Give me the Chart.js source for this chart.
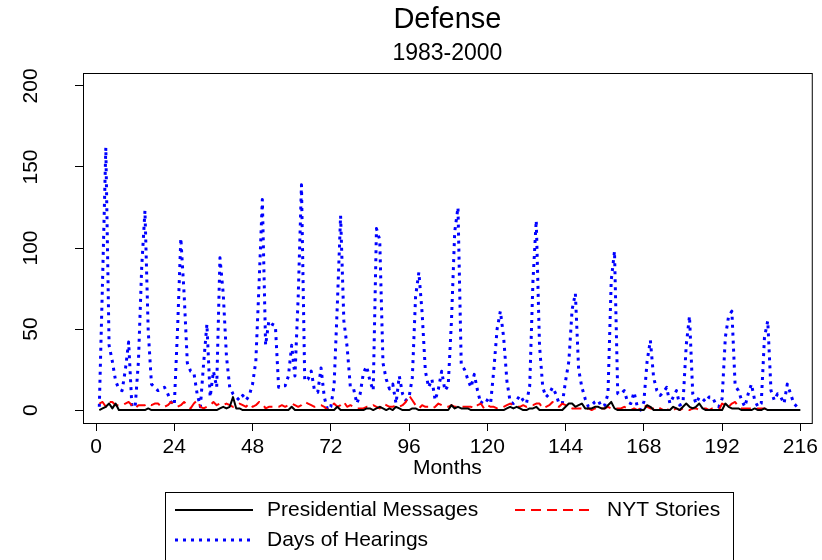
<!DOCTYPE html>
<html>
<head>
<meta charset="utf-8">
<script src="https://cdn.jsdelivr.net/npm/chart.js@4.4.1/dist/chart.umd.min.js"></script>
<style>
  html, body { margin: 0; padding: 0; background: #fff; }
</style>
</head>
<body>
<canvas id="chart" width="822" height="560"></canvas>
<script>
// Monthly counts, 1983-2000 (month 1 .. 216)
const hearings = [
  2, 80, 162, 40, 30, 18, 13, 12, 25, 42,
  2, 2, 30, 88, 123, 49, 16, 14, 12, 13,
  14, 10, 5, 3, 50, 106, 72, 29, 24, 23,
  10, 2, 29, 53, 8, 24, 14, 94, 72, 33,
  14, 10, 8, 6, 9, 6, 9, 16, 30, 78,
  130, 40, 55, 53, 52, 14, 15, 15, 21, 40,
  21, 70, 139, 18, 19, 24, 12, 11, 26, 8,
  0, 2, 15, 65, 120, 55, 39, 14, 13, 4,
  10, 23, 27, 18, 12, 112, 105, 29, 19, 13,
  16, 4, 21, 10, 6, 8, 20, 70, 85, 60,
  24, 14, 19, 6, 13, 24, 12, 15, 55, 110,
  125, 28, 25, 19, 14, 22, 12, 4, 7, 6,
  4, 25, 50, 61, 45, 18, 5, 4, 6, 9,
  6, 4, 15, 80, 117, 40, 14, 8, 10, 14,
  10, 4, 4, 18, 30, 62, 72, 25, 14, 7,
  2, 3, 5, 6, 2, 3, 10, 80, 98, 10,
  10, 12, 5, 4, 11, 2, 0, 5, 30, 43,
  20, 12, 9, 11, 14, 4, 8, 12, 3, 4,
  40, 58, 10, 4, 8, 7, 5, 8, 8, 4,
  2, 7, 45, 58, 61, 15, 12, 6, 2, 10,
  16, 6, 2, 4, 45, 55, 12, 6, 10, 8,
  4, 16, 10, 4, 2, 0
];

const nytStories = [
  4, 5, 2, 5, 5, 3, 3, 3, 4, 5,
  3, 1, 3, 3, 3, 4, 3, 4, 4, 2,
  2, 3, 5, 3, 2, 3, 5, 3, 1, 4,
  6, 2, 1, 2, 3, 5, 3, 4, 3, 4,
  3, 2, 3, 4, 3, 2, 4, 2, 3, 5,
  4, 1, 2, 2, 2, 2, 3, 2, 3, 4,
  3, 2, 3, 5, 4, 3, 2, 3, 3, 2,
  0, 2, 4, 2, 3, 5, 2, 3, 2, 1,
  1, 1, 2, 2, 3, 2, 1, 4, 3, 2,
  2, 3, 2, 3, 5, 9, 6, 3, 1, 3,
  2, 2, 1, 2, 4, 3, 2, 2, 3, 2,
  2, 2, 2, 2, 2, 1, 3, 4, 1, 3,
  2, 2, 1, 1, 2, 3, 4, 3, 2, 2,
  3, 2, 3, 3, 4, 4, 1, 2, 3, 5,
  3, 2, 4, 3, 2, 1, 1, 1, 1, 0,
  1, 0, 1, 0, 1, 1, 2, 1, 1, 1,
  1, 2, 1, 0, 1, 0, 1, 3, 2, 1,
  1, 2, 1, 0, 0, 1, 0, 1, 0, 1,
  1, 0, 1, 1, 0, 1, 1, 0, 1, 1,
  0, 4, 3, 2, 4, 5, 2, 1, 1, 1,
  1, 0, 1, 1, 1, 0, 0, 0, 0, 0,
  0, 0, 0, 0, 0, 0
];

const presMessages = [
  0, 1, 2, 4, 1, 4, 0, 0, 0, 0,
  0, 0, 0, 0, 0, 1, 0, 0, 0, 0,
  0, 0, 0, 0, 0, 0, 0, 0, 0, 0,
  0, 0, 0, 0, 0, 0, 0, 1, 2, 1,
  2, 8, 1, 1, 0, 0, 0, 0, 0, 0,
  0, 0, 0, 0, 0, 0, 0, 0, 0, 2,
  0, 0, 0, 0, 0, 0, 0, 0, 0, 0,
  0, 0, 0, 2, 0, 0, 0, 0, 0, 0,
  0, 0, 1, 1, 0, 1, 2, 1, 0, 1,
  0, 2, 1, 0, 0, 0, 1, 1, 0, 0,
  0, 0, 0, 0, 0, 0, 0, 0, 3, 1,
  2, 1, 1, 1, 0, 0, 0, 0, 0, 0,
  0, 0, 0, 0, 0, 1, 2, 1, 2, 1,
  0, 0, 1, 1, 2, 0, 0, 0, 0, 0,
  0, 0, 0, 2, 4, 4, 2, 3, 4, 1,
  1, 1, 2, 2, 1, 1, 3, 5, 1, 0,
  0, 0, 0, 0, 0, 0, 0, 0, 3, 2,
  0, 0, 0, 0, 0, 0, 2, 1, 0, 2,
  4, 2, 1, 2, 4, 1, 0, 0, 0, 0,
  0, 0, 4, 2, 1, 1, 1, 0, 0, 0,
  0, 1, 0, 0, 1, 0, 0, 0, 0, 0,
  0, 0, 0, 0, 0, 0
];

const xTicks = [0, 24, 48, 72, 96, 120, 144, 168, 192, 216];
const yTicks = [0, 50, 100, 150, 200];

const FONT = '"Liberation Sans", Arial, Helvetica, sans-serif';

const toPoints = arr => arr.map((v, i) => ({ x: i + 1, y: v }));

// R-style frame, rotated y labels, titles and boxed legend
const rFrame = {
  id: 'rFrame',
  afterDraw(chart) {
    const { ctx, chartArea: a, scales } = chart;
    ctx.save();
    ctx.strokeStyle = '#000';
    ctx.lineWidth = 1;
    ctx.strokeRect(a.left + 0.5, a.top + 0.5, a.right - a.left, a.bottom - a.top);

    ctx.fillStyle = '#000';
    ctx.textAlign = 'center';
    ctx.textBaseline = 'middle';

    // y tick labels, rotated
    ctx.font = '21px ' + FONT;
    yTicks.forEach(v => {
      const y = scales.y.getPixelForValue(v);
      ctx.save();
      ctx.translate(31, y);
      ctx.rotate(-Math.PI / 2);
      ctx.fillText(String(v), 0, 0);
      ctx.restore();
    });

    const cx = (a.left + a.right) / 2;
    ctx.fillText('Months', cx, 468);

    ctx.font = '29px ' + FONT;
    ctx.fillText('Defense', cx, 20);
    ctx.font = '23px ' + FONT;
    ctx.fillText('1983-2000', cx, 54);

    // legend
    ctx.strokeRect(165.5, 492.5, 568, 120);
    ctx.font = '21px ' + FONT;
    ctx.textAlign = 'left';
    const item = (x, y, color, dash, w, label) => {
      ctx.save();
      ctx.strokeStyle = color;
      ctx.lineWidth = w;
      ctx.setLineDash(dash);
      ctx.beginPath();
      ctx.moveTo(x, y);
      ctx.lineTo(x + 78, y);
      ctx.stroke();
      ctx.restore();
      ctx.fillText(label, x + 92, y);
    };
    item(175, 510, '#000', [], 2, 'Presidential Messages');
    item(515, 510, '#ff0000', [10, 6], 2, 'NYT Stories');
    item(175, 540, '#0000ff', [3, 5], 3, 'Days of Hearings');
    ctx.restore();
  }
};

new Chart(document.getElementById('chart'), {
  type: 'line',
  data: {
    datasets: [
      {
        label: 'Presidential Messages',
        data: toPoints(presMessages),
        borderColor: '#000',
        borderWidth: 2,
        borderJoinStyle: 'round'
      },
      {
        label: 'NYT Stories',
        data: toPoints(nytStories),
        borderColor: '#ff0000',
        borderWidth: 2,
        borderDash: [10, 6],
        borderJoinStyle: 'round'
      },
      {
        label: 'Days of Hearings',
        data: toPoints(hearings),
        borderColor: '#0000ff',
        borderWidth: 3,
        borderDash: [3, 5],
        borderJoinStyle: 'round'
      }
    ]
  },
  options: {
    responsive: false,
    animation: false,
    devicePixelRatio: 1,
    elements: { point: { radius: 0 }, line: { tension: 0, fill: false } },
    layout: { padding: { top: 73, left: 0, right: 8, bottom: 0 } },
    plugins: {
      legend: { display: false },
      title: { display: false },
      tooltip: { enabled: false }
    },
    scales: {
      x: {
        type: 'linear',
        min: -4,
        max: 219.5,
        afterBuildTicks: s => { s.ticks = xTicks.map(v => ({ value: v })); },
        afterFit: s => { s.height = 137; },
        grid: { drawOnChartArea: false, drawTicks: true, tickLength: 8, color: '#000' },
        border: { display: false },
        ticks: {
          color: '#000',
          font: { family: FONT, size: 21 },
          padding: 4,
          maxRotation: 0,
          autoSkip: false
        }
      },
      y: {
        min: -8,
        max: 208,
        afterBuildTicks: s => { s.ticks = yTicks.map(v => ({ value: v })); },
        afterFit: s => { s.width = 83; },
        grid: { drawOnChartArea: false, drawTicks: true, tickLength: 8, color: '#000' },
        border: { display: false },
        ticks: { display: false }
      }
    }
  },
  plugins: [rFrame]
});
</script>
</body>
</html>
